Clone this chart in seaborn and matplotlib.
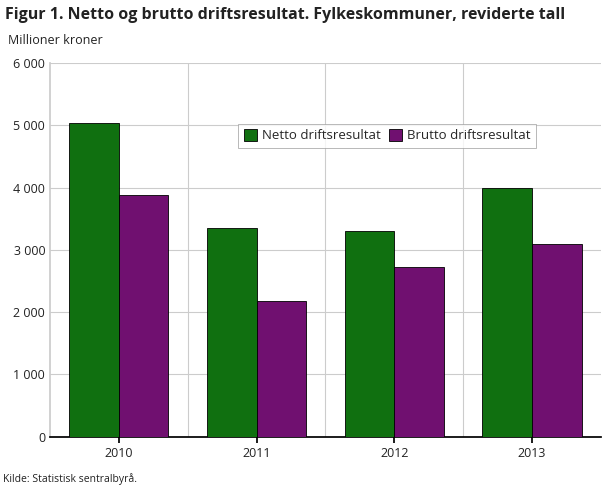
import matplotlib
matplotlib.use("Agg")
import matplotlib.pyplot as plt
import numpy as np
import pandas as pd
import seaborn as sns
from matplotlib.ticker import FuncFormatter

YEARS = ["2010", "2011", "2012", "2013"]
NETTO = [5030, 3350, 3300, 4000]
BRUTTO = [3880, 2180, 2730, 3090]
SERIES = ["Netto driftsresultat", "Brutto driftsresultat"]

df = pd.DataFrame({
    "year": YEARS * 2,
    "value": NETTO + BRUTTO,
    "series": [SERIES[0]] * 4 + [SERIES[1]] * 4,
})

sns.set_theme(style="white")
plt.rcParams["font.family"] = ["Open Sans", "DejaVu Sans"]

fig = plt.figure(figsize=(6.1, 4.88), dpi=100)
ax = fig.add_axes([0.082, 0.105, 0.903, 0.766])
sns.barplot(data=df, x="year", y="value", hue="series", palette=["#008000", "#800080"],
            width=0.72, edgecolor="black", linewidth=0.6, ax=ax, zorder=3)

ax.set_ylim(0, 6000)
ax.set_xlim(-0.5, 3.5)
ax.set_yticks(np.arange(0, 6001, 1000))
ax.yaxis.set_major_formatter(FuncFormatter(lambda v, p: f"{int(v):,}".replace(",", " ")))
ax.grid(axis="y", color="#cccccc", linewidth=0.8, zorder=0)
for xb in [0.5, 1.5, 2.5]:
    ax.axvline(xb, color="#cccccc", linewidth=0.8, zorder=0)
for s in ax.spines.values():
    s.set_visible(False)
ax.spines["bottom"].set_visible(True)
ax.spines["bottom"].set_color("black")
ax.spines["left"].set_visible(True)
ax.spines["left"].set_color("#cccccc")
ax.tick_params(axis="both", labelsize=9, colors="#222222", length=0)
ax.tick_params(axis="x", bottom=True, length=4, color="black")
ax.set_xlabel("")
ax.set_ylabel("")

leg = ax.legend(loc="upper left", bbox_to_anchor=(0.33, 0.855), ncol=2, fontsize=9.5,
                frameon=True, fancybox=False, edgecolor="#999999", handlelength=1.0,
                handleheight=1.0, columnspacing=0.6, handletextpad=0.4, borderpad=0.4)
leg.get_frame().set_linewidth(0.6)

fig.text(0.008, 0.962, "Figur 1. Netto og brutto driftsresultat. Fylkeskommuner, reviderte tall",
         fontsize=11.5, fontweight="bold", color="#222222")
fig.text(0.013, 0.91, "Millioner kroner", fontsize=9, color="#222222")
fig.text(0.005, 0.013, "Kilde: Statistisk sentralbyrå.", fontsize=7.5, color="#222222")

fig.savefig("out.png", dpi=100)
